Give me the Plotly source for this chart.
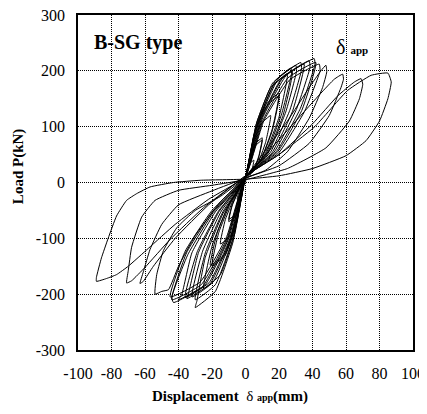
import plotly.graph_objects as go

# Hysteresis cycles: (displacement mm, load kN)
cycle_01 = [(0, 0), (1.25, 25), (3, 35), (5, 40), (4, 24), (2.25, 10), (0, 9),
            (-1.25, -10), (-3, -26), (-5, -30), (-4, -18), (-2.25, -7.5), (0, 10)]
cycle_02 = [(2.5, 45), (6, 70), (10, 80), (8, 48), (4.5, 20), (0, 9),
            (-2.5, -30), (-6, -61), (-10, -70), (-8, -42), (-4.5, -17.5), (0, 10)]
cycle_03 = [(2.5, 43), (6, 66), (10, 76), (8, 46), (4.5, 19), (0, 9),
            (-2.5, -28), (-6, -57), (-10, -66), (-8, -40), (-4.5, -16.5), (0, 10)]
cycle_04 = [(3.75, 65), (9, 104), (15, 120), (12, 72), (6.75, 30), (0, 9),
            (-3.75, -50), (-9, -96), (-15, -110), (-12, -66), (-6.75, -27.5), (0, 10)]
cycle_05 = [(5, 85), (12, 139), (20, 160), (16, 96), (9, 40), (0, 9),
            (-5, -70), (-12, -130), (-20, -150), (-16, -90), (-9, -37.5), (0, 10)]
cycle_06 = [(5, 83), (12, 135), (20, 155), (16, 93), (9, 39), (0, 9),
            (-5.25, -69), (-12.6, -129), (-21, -148), (-16.8, -89), (-9.45, -37), (0, 10)]
cycle_07 = [(6.25, 103), (15, 170), (25, 195), (20, 117), (11.25, 49), (0, 9),
            (-6.25, -90), (-15, -165), (-25, -190), (-20, -114), (-11.25, -47.5), (0, 10)]
cycle_08 = [(6.75, 108), (16.2, 178), (27, 205), (27.5, 196), (21.6, 123), (12.15, 51), (0, 9),
            (-7.5, -107), (-18, -195), (-30, -224), (-29, -212), (-24, -134), (-13.5, -56), (0, 10)]
cycle_09 = [(7, 105), (16.8, 174), (28, 200), (22.4, 120), (12.6, 50), (0, 9),
            (-7.5, -100), (-18, -183), (-30, -210), (-24, -126), (-13.5, -52.5), (0, 10)]
cycle_10 = [(7.5, 110), (18, 183), (30, 210), (30.5, 200), (24, 126), (13.5, 52.5), (0, 9),
            (-8, -97), (-19.2, -178), (-32, -205), (-25.6, -123), (-14.4, -51), (0, 10)]
cycle_11 = [(8.25, 112), (19.8, 187), (33, 215), (33.5, 203), (26.4, 129), (14.85, 54), (0, 9),
            (-8.75, -99), (-21, -181), (-35, -208), (-34, -198), (-28, -125), (-15.75, -52), (0, 10)]
cycle_12 = [(8.75, 111), (21, 184), (35, 212), (28, 127), (15.75, 53), (0, 9),
            (-9, -98), (-21.6, -179), (-36, -206), (-28.8, -124), (-16.2, -51.5), (0, 10)]
cycle_13 = [(9.5, 114), (22.8, 190), (38, 218), (38.5, 206), (30.4, 131), (17.1, 54.5), (0, 9),
            (-10, -100), (-24, -183), (-40, -210), (-38, -200), (-32, -126), (-18, -52.5), (0, 10)]
cycle_14 = [(10.25, 116), (24.6, 193), (41, 222), (41.5, 212), (32.8, 133), (18.45, 55.5), (0, 9),
            (-10.75, -102), (-25.8, -187), (-43, -215), (-44, -205), (-34.4, -129), (-19.35, -54), (0, 10)]
cycle_15 = [(10.5, 112), (25.2, 187), (42, 215), (33.6, 129), (18.9, 54), (0, 9),
            (-11, -100), (-26.4, -183), (-44, -210), (-35.2, -126), (-19.8, -52.5), (0, 10)]
cycle_16 = [(11, 111), (26.4, 184), (44, 212), (44.5, 200), (35.2, 127), (19.8, 53), (0, 9),
            (-11.25, -97), (-27, -178), (-45, -205), (-36, -123), (-20.25, -51), (0, 10)]
cycle_17 = [(10, 50), (25, 110), (38, 170), (45, 200), (48, 210), (48.5, 198), (46, 170), (38, 115), (25, 55), (12, 22), (0, 8),
            (-15, -25), (-30, -50), (-41, -81), (-49, -122), (-53, -165), (-54, -200), (-50, -195), (-46, -192),
            (-40, -150), (-30, -95), (-15, -35), (0, 10)]
cycle_18 = [(15, 60), (30, 110), (45, 160), (53, 185), (58, 194), (58.5, 185), (57, 170), (50, 120), (38, 70), (20, 30), (0, 8),
            (-20, -15), (-40, -40), (-50, -75), (-57, -120), (-61, -160), (-63, -181), (-61, -177), (-55, -150),
            (-42, -100), (-22, -40), (0, 12)]
cycle_19 = [(20, 50), (40, 105), (55, 155), (65, 180), (69, 186), (70, 176), (68, 150), (62, 110), (48, 62), (25, 25), (0, 5),
            (-20, -5), (-40, -14), (-54, -32), (-62, -62), (-68, -116), (-70, -158), (-71, -180), (-68, -176),
            (-60, -152), (-45, -102), (-25, -45), (0, 12)]
cycle_20 = [(20, 50), (41, 99), (61, 165), (75, 192), (85, 196), (87, 180), (85, 150), (80, 110), (72, 75), (60, 48),
            (40, 25), (20, 12), (0, 6),
            (-27, 4), (-43, 0), (-57, -8), (-65, -20), (-71, -32), (-77, -60), (-82, -100), (-86, -135), (-89, -170),
            (-89, -177), (-83, -172), (-77, -165), (-70, -150), (-58, -118), (-42, -75), (-22, -30), (0, 8)]

cycles = [cycle_01, cycle_02, cycle_03, cycle_04, cycle_05, cycle_06, cycle_07, cycle_08, cycle_09, cycle_10,
          cycle_11, cycle_12, cycle_13, cycle_14, cycle_15, cycle_16, cycle_17, cycle_18, cycle_19, cycle_20]

x_ticks = [-100, -80, -60, -40, -20, 0, 20, 40, 60, 80, 100]
x_tick_labels = ["-100", "-80", "-60", "-40", "-20", "0", "20", "40", "60", "80", "100"]
y_ticks = [-300, -200, -100, 0, 100, 200, 300]
y_tick_labels = ["-300", "-200", "-100", "0", "100", "200", "300"]

disp = []
load = []
for c in cycles:
    for d, p in c:
        disp.append(d)
        load.append(p)

fig = go.Figure()
fig.add_trace(go.Scatter(x=disp, y=load, mode="lines",
                         line=dict(color="black", width=1, shape="spline", smoothing=0.4),
                         hoverinfo="skip", showlegend=False))

serif = "Liberation Serif"
axis_common = dict(showline=True, linecolor="black", linewidth=1.5, mirror=True,
                   showgrid=True, gridcolor="black", gridwidth=1, griddash="1px,1px",
                   zeroline=False, ticks="", ticklabelstandoff=8, automargin=False,
                   ticklabeloverflow="allow",
                   tickfont=dict(family=serif, size=16, color="black"))

fig.update_layout(
    width=419, height=406,
    margin=dict(l=70, r=14, t=7, b=64),
    paper_bgcolor="white", plot_bgcolor="white",
    font=dict(family=serif, color="black", size=16),
    xaxis=dict(range=[-100, 100], tickvals=x_ticks, ticktext=x_tick_labels, **axis_common),
    yaxis=dict(range=[-300, 300], tickvals=y_ticks, ticktext=y_tick_labels, **axis_common),
    annotations=[
        dict(text="<b>B-SG type</b>", xref="paper", yref="paper", x=0.042, y=0.919,
             xanchor="left", yanchor="middle", showarrow=False,
             font=dict(family=serif, size=20, color="black")),
        dict(text="δ <b><span style='font-size:11px'>app</span></b>", xref="paper", yref="paper",
             x=0.763, y=0.905, xanchor="left", yanchor="middle", showarrow=False,
             font=dict(family=serif, size=20, color="black")),
        dict(text="<b>Displacement</b>  δ <b><span style='font-size:10px'>app</span>(mm)</b>",
             xref="paper", yref="paper", x=0.455, y=-0.14, xanchor="center", yanchor="middle",
             showarrow=False, font=dict(family=serif, size=15, color="black")),
        dict(text="<b>Load P(kN)</b>", xref="paper", yref="paper", x=-0.179, y=0.546,
             xanchor="center", yanchor="middle", textangle=-90, showarrow=False,
             font=dict(family=serif, size=15, color="black")),
    ],
)

fig.write_html("out.html")
